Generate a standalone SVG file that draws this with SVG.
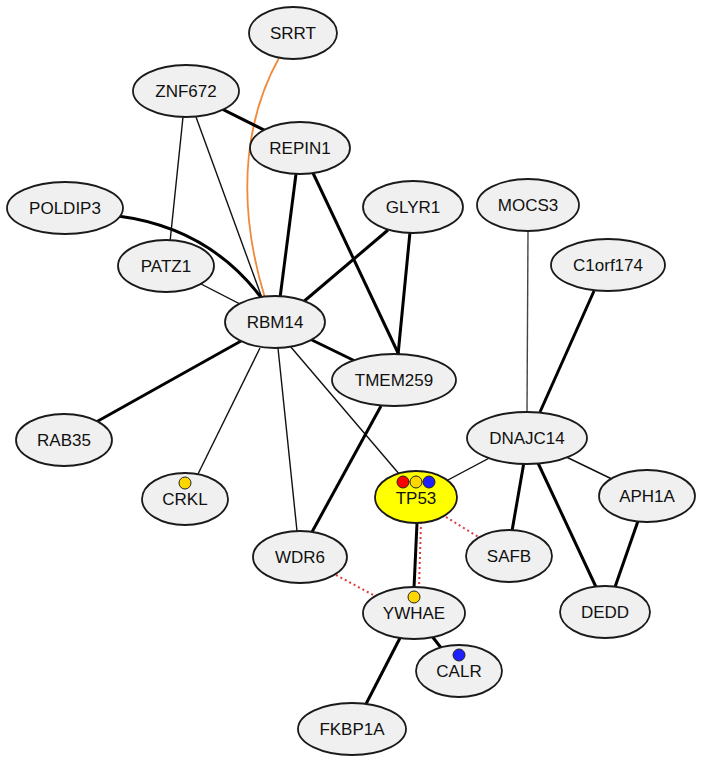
<svg xmlns="http://www.w3.org/2000/svg" width="704" height="763" viewBox="0 0 704 763">
<style>
.n ellipse{fill:#f0f0f0;stroke:#1a1a1a;stroke-width:1.8}
.n text{font-family:"Liberation Sans",Arial,sans-serif;font-size:17px;fill:#111;text-anchor:middle;dominant-baseline:central}
.thin{stroke:#111;stroke-width:1.4;fill:none}
.thick{stroke:#000;stroke-width:3;fill:none}
.dot{stroke:#e03a3a;stroke-width:2;stroke-dasharray:2,3;fill:none}
.orange{stroke:#f08a3c;stroke-width:1.8;fill:none}
.d{stroke:#222;stroke-width:1}
</style>
<rect width="704" height="763" fill="#fff"/>
<g id="edges">
<path class="orange" d="M279,58 C250,110 232,190 265,298"/>
<line class="thick" x1="186" y1="91" x2="300" y2="148"/>
<line class="thin" x1="183" y1="117" x2="170" y2="242"/>
<line class="thin" x1="196" y1="117" x2="262" y2="298"/>
<path class="thick" d="M118,216 Q210,228 263,300"/>
<line class="thin" x1="166" y1="266" x2="275" y2="322"/>
<line class="thick" x1="296" y1="174" x2="280" y2="298"/>
<line class="thick" x1="313" y1="173" x2="399" y2="355"/>
<line class="thick" x1="388" y1="230" x2="302" y2="303"/>
<line class="thick" x1="410" y1="232" x2="398" y2="355"/>
<line class="thick" x1="275" y1="322" x2="394" y2="380"/>
<line class="thick" x1="275" y1="322" x2="64" y2="440"/>
<line class="thin" x1="260" y1="348" x2="198" y2="474"/>
<line class="thin" x1="278" y1="348" x2="297" y2="531"/>
<line class="thin" x1="290" y1="346" x2="400" y2="475"/>
<line class="thick" x1="381" y1="406" x2="312" y2="532"/>
<line class="thin" x1="528" y1="231" x2="527" y2="412" style="stroke:#444"/>
<line class="thick" x1="594" y1="291" x2="540" y2="412"/>
<line class="thin" x1="527" y1="438" x2="416" y2="497"/>
<line class="thick" x1="524" y1="462" x2="512" y2="531"/>
<line class="thick" x1="538" y1="463" x2="596" y2="587"/>
<line class="thin" x1="527" y1="438" x2="647" y2="496"/>
<line class="thick" x1="638" y1="521" x2="615" y2="587"/>
<line class="thick" x1="417" y1="523" x2="414" y2="588"/>
<line class="dot" x1="421" y1="522" x2="419" y2="588"/>
<line class="dot" x1="446" y1="517" x2="480" y2="538"/>
<line class="dot" x1="336" y1="575" x2="377" y2="597"/>
<line class="thick" x1="400" y1="638" x2="366" y2="704"/>
<line class="thick" x1="414" y1="613" x2="459" y2="671"/>
</g>
<g id="SRRT" class="n"><ellipse cx="293" cy="33" rx="44" ry="26"/><text x="293" y="33">SRRT</text></g>
<g id="ZNF672" class="n"><ellipse cx="186" cy="91" rx="53" ry="26"/><text x="186" y="91">ZNF672</text></g>
<g id="REPIN1" class="n"><ellipse cx="300" cy="148" rx="50" ry="26"/><text x="300" y="148">REPIN1</text></g>
<g id="POLDIP3" class="n"><ellipse cx="65" cy="208" rx="58" ry="26"/><text x="65" y="208">POLDIP3</text></g>
<g id="PATZ1" class="n"><ellipse cx="166" cy="266" rx="48" ry="26"/><text x="166" y="266">PATZ1</text></g>
<g id="GLYR1" class="n"><ellipse cx="413" cy="207" rx="50" ry="26"/><text x="413" y="207">GLYR1</text></g>
<g id="MOCS3" class="n"><ellipse cx="528" cy="205" rx="51" ry="26"/><text x="528" y="205">MOCS3</text></g>
<g id="C1orf174" class="n"><ellipse cx="608" cy="265" rx="57" ry="26"/><text x="608" y="265">C1orf174</text></g>
<g id="RBM14" class="n"><ellipse cx="275" cy="322" rx="50" ry="26"/><text x="275" y="322">RBM14</text></g>
<g id="TMEM259" class="n"><ellipse cx="394" cy="380" rx="62" ry="26"/><text x="394" y="380">TMEM259</text></g>
<g id="RAB35" class="n"><ellipse cx="64" cy="440" rx="48" ry="26"/><text x="64" y="440">RAB35</text></g>
<g id="DNAJC14" class="n"><ellipse cx="527" cy="438" rx="60" ry="26"/><text x="527" y="438">DNAJC14</text></g>
<g id="CRKL" class="n"><ellipse cx="185" cy="499" rx="43" ry="26"/><text x="185" y="499">CRKL</text><circle class="d" cx="185" cy="483" r="6" fill="#ffd700"/></g>
<g id="APH1A" class="n"><ellipse cx="647" cy="496" rx="48" ry="26"/><text x="647" y="496">APH1A</text></g>
<g id="TP53" class="n"><ellipse cx="416" cy="497" rx="41" ry="26" style="fill:#ffff00"/><text x="416" y="498">TP53</text><circle class="d" cx="403" cy="482" r="6" fill="#ff0000"/><circle class="d" cx="416" cy="482" r="6" fill="#ffd700"/><circle class="d" cx="429" cy="482" r="6" fill="#2020ff"/></g>
<g id="WDR6" class="n"><ellipse cx="300" cy="557" rx="47" ry="26"/><text x="300" y="557">WDR6</text></g>
<g id="SAFB" class="n"><ellipse cx="509" cy="556" rx="43" ry="26"/><text x="509" y="556">SAFB</text></g>
<g id="DEDD" class="n"><ellipse cx="605" cy="612" rx="45" ry="26"/><text x="605" y="612">DEDD</text></g>
<g id="YWHAE" class="n"><ellipse cx="414" cy="613" rx="51" ry="26"/><text x="414" y="613">YWHAE</text><circle class="d" cx="414" cy="597" r="6" fill="#ffd700"/></g>
<g id="CALR" class="n"><ellipse cx="459" cy="671" rx="43" ry="26"/><text x="459" y="671">CALR</text><circle class="d" cx="459" cy="655" r="6" fill="#2020ff"/></g>
<g id="FKBP1A" class="n"><ellipse cx="352" cy="729" rx="54" ry="26"/><text x="352" y="729">FKBP1A</text></g>
</svg>
